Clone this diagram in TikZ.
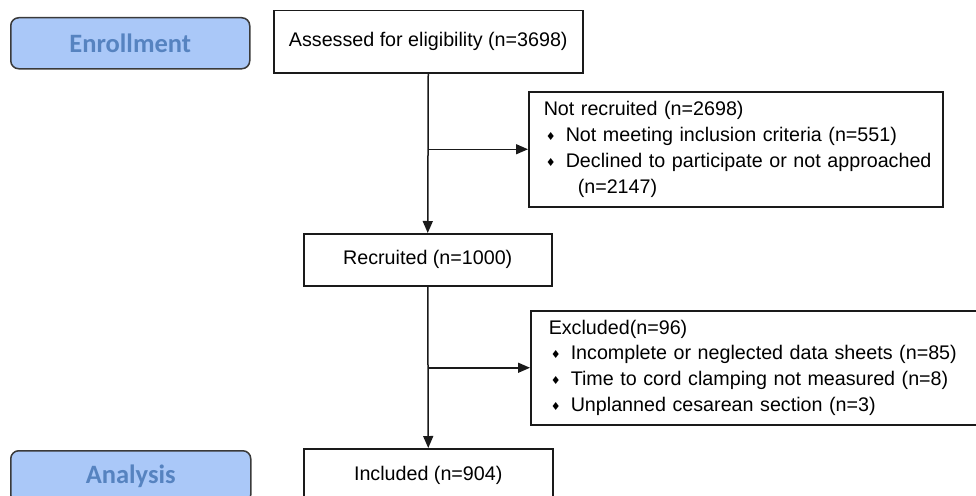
\documentclass[tikz,border=0pt]{standalone}
\usepackage{fontspec}
\setmainfont{Liberation Sans}
\newfontfamily\stagefont{Carlito}
\newfontfamily\symfont{DejaVu Sans}
\usepackage{xcolor}
\usetikzlibrary{arrows.meta,positioning}
\definecolor{ink}{HTML}{1A1A1A}
\definecolor{stageline}{HTML}{3A3A3A}
\definecolor{stagefill}{HTML}{AAC8F8}
\definecolor{stagetext}{HTML}{5683C0}
\newcommand{\itembullet}{\makebox[22pt][l]{\hspace{2pt}\raisebox{1pt}{\symfont\fontsize{11}{11}\selectfont ♦}}}
\tikzset{
  x=1pt, y=-1pt,
  box/.style={
    draw=ink,
    line width=1.5pt,
    fill=white,
    anchor=north west,
    align=center,
    inner sep=0pt,
    font=\fontsize{19.7}{25.8}\selectfont
  },
  listbox/.style={
    box,
    align=left,
    inner xsep=15pt
  },
  stage/.style={
    draw=stageline,
    line width=1.5pt,
    fill=stagefill,
    rounded corners=8pt,
    anchor=north west,
    inner sep=0pt,
    text=stagetext,
    font=\stagefont\bfseries\fontsize{26.5}{30}\selectfont
  },
  flow/.style={
    -{Triangle[length=12pt,width=10pt]},
    draw=ink,
    line width=1.5pt
  }
}

\begin{document}
\begin{tikzpicture}
\useasboundingbox (0,0) rectangle (976,495);
\clip (0,0) rectangle (976,495);

% Stage labels on the left
\node[stage, minimum width=239pt, minimum height=51pt] (enrollment) at (10,17) {Enrollment};
\node[stage, minimum width=240pt, minimum height=52pt] (analysis) at (10,450) {Analysis};

% Main flow
\node[box, minimum width=309pt, minimum height=62pt] (assessed) at (273,10)
  {Assessed for eligibility (n=3698)};
\node[box, minimum width=248pt, minimum height=52pt] (recruited) at (303,233)
  {Recruited (n=1000)};
\node[box, minimum width=249pt, minimum height=54pt] (included) at (303,448)
  {Included (n=904)};

% Side boxes
\node[listbox, minimum width=414pt, minimum height=115pt, text width=384pt] (notrecruited) at (528,91)
  {Not recruited (n=2698)\\
   \itembullet Not meeting inclusion criteria (n=551)\\
   \itembullet \mbox{Declined to participate or not approached}\\
   \hspace*{34pt}(n=2147)};
\node[listbox, inner xsep=18pt, minimum width=470pt, minimum height=114pt, text width=434pt] (excluded) at (530,310)
  {Excluded(n=96)\\
   \itembullet Incomplete or neglected data sheets (n=85)\\
   \itembullet Time to cord clamping not measured (n=8)\\
   \itembullet Unplanned cesarean section (n=3)};

\draw[flow] (assessed.south) -- (recruited.north);
\draw[flow] (assessed.south |- notrecruited.west) -- (notrecruited.west);
\draw[flow] (recruited.south) -- (included.north);
\draw[flow] (recruited.south |- excluded.west) -- (excluded.west);

\end{tikzpicture}
\end{document}
